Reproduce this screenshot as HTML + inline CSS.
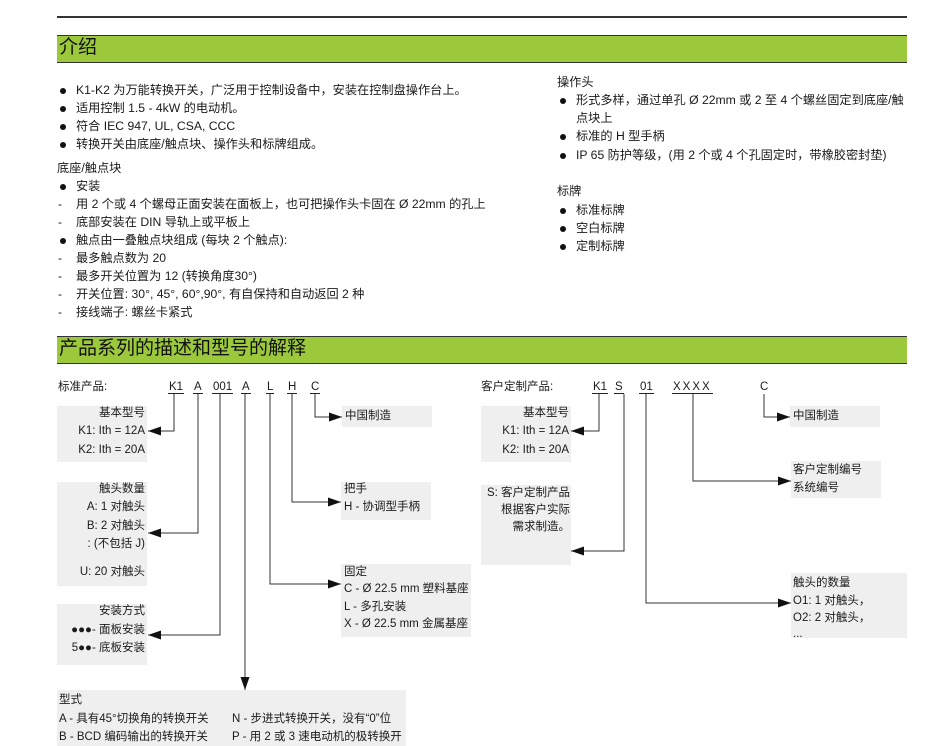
<!DOCTYPE html>
<html><head><meta charset="utf-8"><style>
body{margin:0;width:937px;height:746px;background:#fff;position:relative;overflow:hidden;font-family:"Liberation Sans","Noto Sans CJK SC",sans-serif;color:#1a1a1a;font-size:11.5px}
.t{position:absolute;white-space:nowrap;line-height:14px}
.i{font-size:12.2px}
.b{position:absolute;background:#eeefee}
.bar{position:absolute;left:57px;width:850px;background:#9cc83c;border-top:1.5px solid #333;border-bottom:1.5px solid #333;font-size:19px;line-height:24px;padding-left:2px;box-sizing:border-box;color:#111}
.r{text-align:right}
.dot{display:inline-block;width:6px;height:6px;border-radius:50%;background:#111;position:absolute;left:-16px;top:5px}
.u{border-bottom:1px solid #222;padding:0 1px}
</style></head><body>
<div style="position:absolute;left:57px;top:16px;width:850px;height:1.5px;background:#333"></div>
<div class="bar" style="top:35px;height:28px">介绍</div>
<div class="bar" style="top:336px;height:28px">产品系列的描述和型号的解释</div>

<div class="t i" style="left:76px;top:83px"><span class="dot"></span>K1-K2 为万能转换开关，广泛用于控制设备中，安装在控制盘操作台上。</div>
<div class="t i" style="left:76px;top:101px"><span class="dot"></span>适用控制 1.5 - 4kW 的电动机。</div>
<div class="t i" style="left:76px;top:119px"><span class="dot"></span>符合 IEC 947, UL, CSA, CCC</div>
<div class="t i" style="left:76px;top:137px"><span class="dot"></span>转换开关由底座/触点块、操作头和标牌组成。</div>
<div class="t i" style="left:57px;top:161px">底座/触点块</div>
<div class="t i" style="left:76px;top:179px"><span class="dot"></span>安装</div>
<div class="t i" style="left:58px;top:197px">-</div><div class="t i" style="left:76px;top:197px">用 2 个或 4 个螺母正面安装在面板上，也可把操作头卡固在 Ø 22mm 的孔上</div>
<div class="t i" style="left:58px;top:215px">-</div><div class="t i" style="left:76px;top:215px">底部安装在 DIN 导轨上或平板上</div>
<div class="t i" style="left:76px;top:233px"><span class="dot"></span>触点由一叠触点块组成 (每块 2 个触点):</div>
<div class="t i" style="left:58px;top:251px">-</div><div class="t i" style="left:76px;top:251px">最多触点数为 20</div>
<div class="t i" style="left:58px;top:269px">-</div><div class="t i" style="left:76px;top:269px">最多开关位置为 12 (转换角度30°)</div>
<div class="t i" style="left:58px;top:287px">-</div><div class="t i" style="left:76px;top:287px">开关位置: 30°, 45°, 60°,90°, 有自保持和自动返回 2 种</div>
<div class="t i" style="left:58px;top:305px">-</div><div class="t i" style="left:76px;top:305px">接线端子: 螺丝卡紧式</div>

<div class="t i" style="left:557px;top:75px">操作头</div>
<div class="t i" style="left:576px;top:93px"><span class="dot"></span>形式多样，通过单孔 Ø 22mm 或 2 至 4 个螺丝固定到底座/触</div>
<div class="t i" style="left:576px;top:111px">点块上</div>
<div class="t i" style="left:576px;top:129px"><span class="dot"></span>标准的 H 型手柄</div>
<div class="t i" style="left:576px;top:148px"><span class="dot"></span>IP 65 防护等级，(用 2 个或 4 个孔固定时，带橡胶密封垫)</div>
<div class="t i" style="left:557px;top:184px">标牌</div>
<div class="t i" style="left:576px;top:203px"><span class="dot"></span>标准标牌</div>
<div class="t i" style="left:576px;top:221px"><span class="dot"></span>空白标牌</div>
<div class="t i" style="left:576px;top:239px"><span class="dot"></span>定制标牌</div>

<div class="b" style="left:57px;top:406px;width:90px;height:56px"></div>
<div class="b" style="left:57px;top:482px;width:90px;height:104px"></div>
<div class="b" style="left:57px;top:604px;width:90px;height:61px"></div>
<div class="b" style="left:57px;top:690px;width:349px;height:56px"></div>
<div class="b" style="left:342px;top:406px;width:90px;height:21px"></div>
<div class="b" style="left:341px;top:482px;width:90px;height:38px"></div>
<div class="b" style="left:341px;top:564px;width:130px;height:73px"></div>
<div class="b" style="left:481px;top:406px;width:90px;height:56px"></div>
<div class="b" style="left:481px;top:485px;width:90px;height:80px"></div>
<div class="b" style="left:790px;top:406px;width:90px;height:21px"></div>
<div class="b" style="left:791px;top:461px;width:90px;height:37px"></div>
<div class="b" style="left:791px;top:573px;width:116px;height:65px"></div>

<svg style="position:absolute;left:0;top:0" width="937" height="746">
<defs><marker id="a" markerWidth="13" markerHeight="9" refX="13" refY="4.5" orient="auto" markerUnits="userSpaceOnUse"><path d="M0,0L13,4.5L0,9z" fill="#111"/></marker></defs>
<g stroke="#333" stroke-width="1" fill="none" marker-end="url(#a)">
<path d="M174,394V431H148"/>
<path d="M198,394V533H148"/>
<path d="M220,394V635H148"/>
<path d="M245,394V690"/>
<path d="M270,394V584H341"/>
<path d="M292,394V502H341"/>
<path d="M315,394V417H342"/>
<path d="M599,394V431H571"/>
<path d="M624,394V551H571"/>
<path d="M646,394V603H791"/>
<path d="M693,394V481H791"/>
<path d="M764,394V417H790"/>
</g></svg>

<div class="t" style="left:58px;top:380px">标准产品:</div>
<div class="t" style="left:168px;top:380px"><span class="u">K1</span></div>
<div class="t" style="left:193px;top:380px"><span class="u">A</span></div>
<div class="t" style="left:212px;top:380px"><span class="u">001</span></div>
<div class="t" style="left:241px;top:380px"><span class="u">A</span></div>
<div class="t" style="left:266px;top:380px"><span class="u">L</span></div>
<div class="t" style="left:287px;top:380px"><span class="u">H</span></div>
<div class="t" style="left:310px;top:380px"><span class="u">C</span></div>

<div class="t r" style="left:57px;width:88px;top:406px">基本型号</div>
<div class="t r" style="left:57px;width:88px;top:424px">K1: Ith = 12A</div>
<div class="t r" style="left:57px;width:88px;top:443px">K2: Ith = 20A</div>
<div class="t r" style="left:57px;width:88px;top:482px">触头数量</div>
<div class="t r" style="left:57px;width:88px;top:500px">A: 1 对触头</div>
<div class="t r" style="left:57px;width:88px;top:519px">B: 2 对触头</div>
<div class="t r" style="left:57px;width:88px;top:537px">: (不包括 J)</div>
<div class="t r" style="left:57px;width:88px;top:565px">U: 20 对触头</div>
<div class="t r" style="left:57px;width:88px;top:604px">安装方式</div>
<div class="t r" style="left:57px;width:88px;top:623px">●●●- 面板安装</div>
<div class="t r" style="left:57px;width:88px;top:641px">5●●- 底板安装</div>
<div class="t" style="left:59px;top:693px">型式</div>
<div class="t" style="left:59px;top:712px">A - 具有45°切换角的转换开关</div>
<div class="t" style="left:59px;top:730px">B - BCD 编码输出的转换开关</div>
<div class="t" style="left:232px;top:712px">N - 步进式转换开关，没有“0”位</div>
<div class="t" style="left:232px;top:730px">P - 用 2 或 3 速电动机的极转换开</div>
<div class="t" style="left:345px;top:409px">中国制造</div>
<div class="t" style="left:344px;top:482px">把手</div>
<div class="t" style="left:344px;top:500px">H - 协调型手柄</div>
<div class="t" style="left:344px;top:565px">固定</div>
<div class="t" style="left:344px;top:582px">C - Ø 22.5 mm 塑料基座</div>
<div class="t" style="left:344px;top:600px">L - 多孔安装</div>
<div class="t" style="left:344px;top:617px">X - Ø 22.5 mm 金属基座</div>

<div class="t" style="left:481px;top:380px">客户定制产品:</div>
<div class="t" style="left:592px;top:380px"><span class="u">K1</span></div>
<div class="t" style="left:614px;top:380px"><span class="u">S</span></div>
<div class="t" style="left:639px;top:380px"><span class="u">01</span></div>
<div class="t" style="left:672px;top:380px"><span class="u" style="letter-spacing:2px">XXXX</span></div>
<div class="t" style="left:760px;top:380px">C</div>
<div class="t r" style="left:481px;width:88px;top:406px">基本型号</div>
<div class="t r" style="left:481px;width:88px;top:424px">K1: Ith = 12A</div>
<div class="t r" style="left:481px;width:88px;top:443px">K2: Ith = 20A</div>
<div class="t r" style="left:481px;width:89px;top:486px">S: 客户定制产品</div>
<div class="t r" style="left:481px;width:89px;top:503px">根据客户实际</div>
<div class="t r" style="left:481px;width:89px;top:520px">需求制造。</div>
<div class="t" style="left:793px;top:409px">中国制造</div>
<div class="t" style="left:793px;top:463px">客户定制编号</div>
<div class="t" style="left:793px;top:481px">系统编号</div>
<div class="t" style="left:793px;top:576px">触头的数量</div>
<div class="t" style="left:793px;top:594px">O1: 1 对触头，</div>
<div class="t" style="left:793px;top:611px">O2: 2 对触头，</div>
<div class="t" style="left:793px;top:627px">...</div>
</body></html>
